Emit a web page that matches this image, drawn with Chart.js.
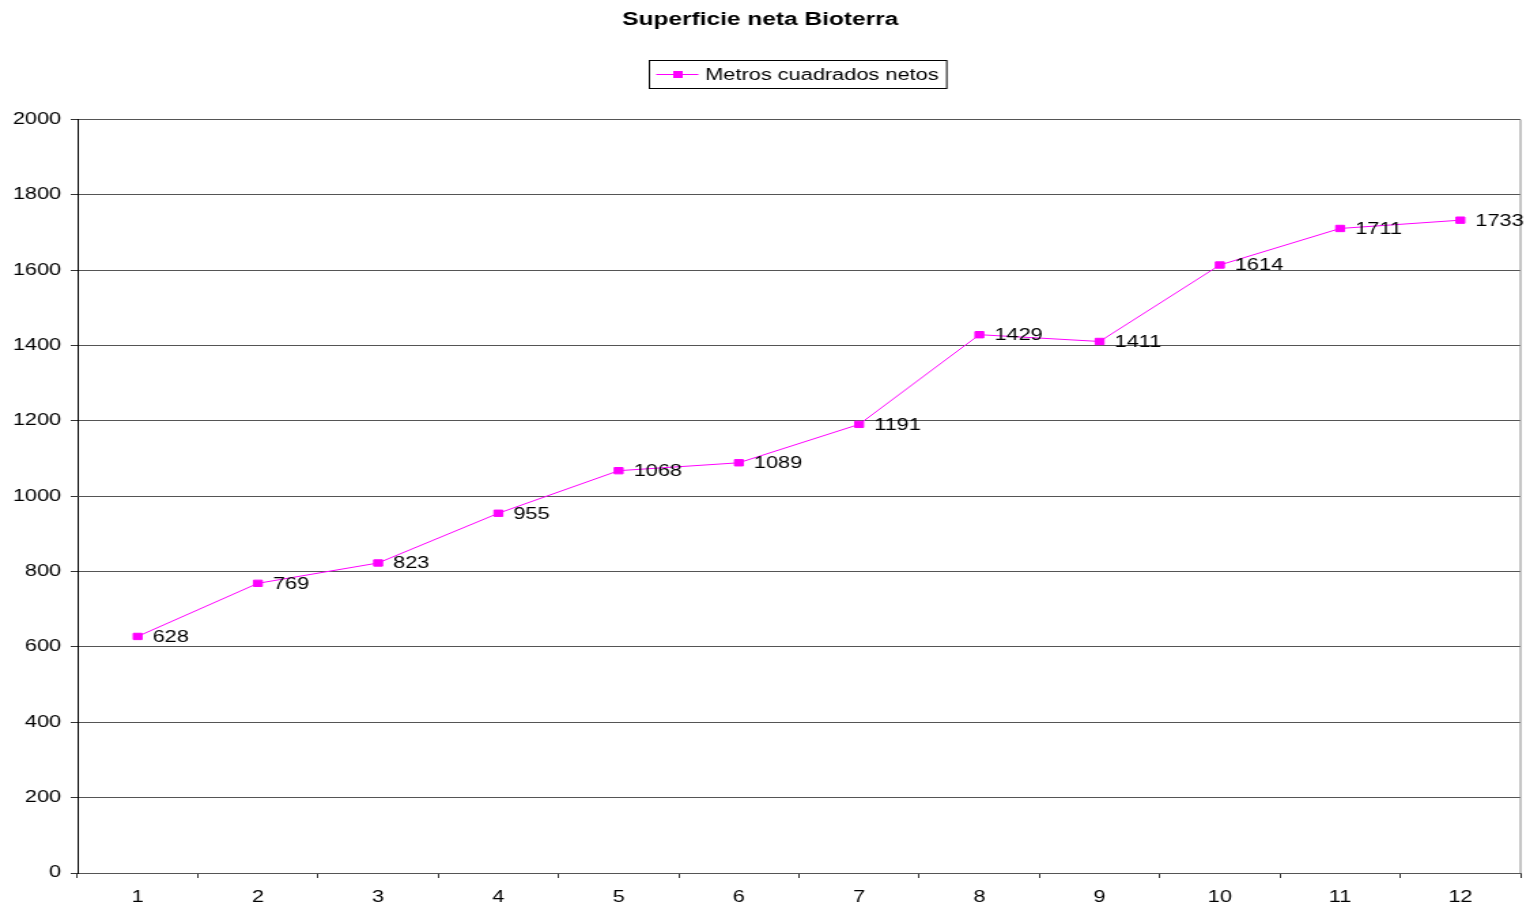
<!DOCTYPE html>
<html>
<head>
<meta charset="utf-8">
<title>Superficie neta Bioterra</title>
<script src="https://cdn.jsdelivr.net/npm/chart.js@4.4.0/dist/chart.umd.min.js"></script>
<style>
    html, body { margin: 0; padding: 0; background: #ffffff; overflow: hidden; }
    /* the original picture is stretched sideways, so the chart is drawn narrower and widened */
    #wrap { width: 1125px; height: 910px; transform: scaleX(1.36); transform-origin: 0 0; }
</style>
</head>
<body>
<div id="wrap"><canvas id="areaChart" width="1125" height="910"></canvas></div>
<script>
const chartTitle = "Superficie neta Bioterra";
const seriesName = "Metros cuadrados netos";
const periods = ["1", "2", "3", "4", "5", "6", "7", "8", "9", "10", "11", "12"];
const netArea = [628, 769, 823, 955, 1068, 1089, 1191, 1429, 1411, 1614, 1711, 1733];
const yMin = 0;
const yMax = 2000;
const yStep = 200;

const lineColor = "#FF00FF";
const fontFamily = "'Liberation Sans', Arial, sans-serif";

// right border of the plot area (excel style frame)
const plotFrame = {
    id: "plotFrame",
    beforeDatasetsDraw(chart) {
        const { ctx, chartArea } = chart;
        ctx.save();
        ctx.strokeStyle = "#8c8c8c";
        ctx.lineWidth = 1;
        ctx.beginPath();
        ctx.moveTo(chartArea.right, chartArea.top);
        ctx.lineTo(chartArea.right, chartArea.bottom);
        ctx.stroke();
        ctx.restore();
    }
};

// value next to every point
const pointLabels = {
    id: "pointLabels",
    afterDatasetsDraw(chart) {
        const ctx = chart.ctx;
        const meta = chart.getDatasetMeta(0);
        ctx.save();
        ctx.font = "16px " + fontFamily;
        ctx.fillStyle = "#000000";
        ctx.textAlign = "left";
        ctx.textBaseline = "middle";
        meta.data.forEach((pt, i) => {
            ctx.fillText(String(netArea[i]), pt.x + 11, pt.y + 1);
        });
        ctx.restore();
    }
};

// legend with a border, centred over the plot area
const boxedLegend = {
    id: "boxedLegend",
    afterDraw(chart) {
        const { ctx, chartArea } = chart;
        ctx.save();
        ctx.font = "16px " + fontFamily;
        const textW = ctx.measureText(seriesName).width;
        const boxW = 41 + textW + 6;
        const boxH = 28;
        const left = Math.round((chartArea.left + chartArea.right) / 2 - boxW / 2) - 0.5;
        const top = 60.5;
        ctx.strokeStyle = "#000000";
        ctx.lineWidth = 1;
        ctx.strokeRect(left, top, boxW, boxH);

        const midY = top + boxH / 2;
        ctx.strokeStyle = lineColor;
        ctx.beginPath();
        ctx.moveTo(left + 5, midY);
        ctx.lineTo(left + 36, midY);
        ctx.stroke();
        ctx.fillStyle = lineColor;
        ctx.fillRect(left + 21 - 3.5, midY - 3.5, 7, 7);

        ctx.fillStyle = "#000000";
        ctx.textAlign = "left";
        ctx.textBaseline = "middle";
        ctx.fillText(seriesName, left + 41, midY + 1);
        ctx.restore();
    }
};

new Chart("areaChart", {
    type: "line",
    data: {
        labels: periods,
        datasets: [
            {
                label: seriesName,
                data: netArea,
                borderColor: lineColor,
                backgroundColor: lineColor,
                borderWidth: 1,
                pointStyle: "rect",
                pointRadius: 4.5,
                pointBorderWidth: 1,
                pointBorderColor: lineColor,
                pointBackgroundColor: lineColor,
                fill: false,
                tension: 0
            }
        ]
    },
    options: {
        responsive: false,
        animation: false,
        devicePixelRatio: 1,
        layout: {
            padding: { left: 0, right: 7, top: 0, bottom: 0 }
        },
        plugins: {
            legend: { display: false },
            tooltip: { enabled: false },
            title: {
                display: true,
                text: chartTitle,
                color: "#000000",
                font: { family: fontFamily, size: 18, weight: "bold" },
                padding: { top: 9, bottom: 89 }
            }
        },
        scales: {
            x: {
                offset: true,
                grid: {
                    offset: true,
                    drawOnChartArea: false,
                    drawTicks: true,
                    tickLength: 5,
                    tickColor: "#333333"
                },
                border: { color: "#555555", width: 1 },
                ticks: {
                    color: "#000000",
                    padding: 10,
                    maxRotation: 0,
                    font: { family: fontFamily, size: 16 }
                },
                afterFit(scale) {
                    scale.height = 37;
                }
            },
            y: {
                min: yMin,
                max: yMax,
                grid: {
                    color: "#555555",
                    lineWidth: 1,
                    tickLength: 5,
                    tickColor: "#333333"
                },
                border: { color: "#000000", width: 1 },
                ticks: {
                    stepSize: yStep,
                    color: "#000000",
                    padding: 7,
                    font: { family: fontFamily, size: 16 },
                    callback: (value) => String(value)
                },
                afterFit(scale) {
                    scale.width = 57;
                }
            }
        }
    },
    plugins: [plotFrame, pointLabels, boxedLegend]
});
</script>
</body>
</html>
